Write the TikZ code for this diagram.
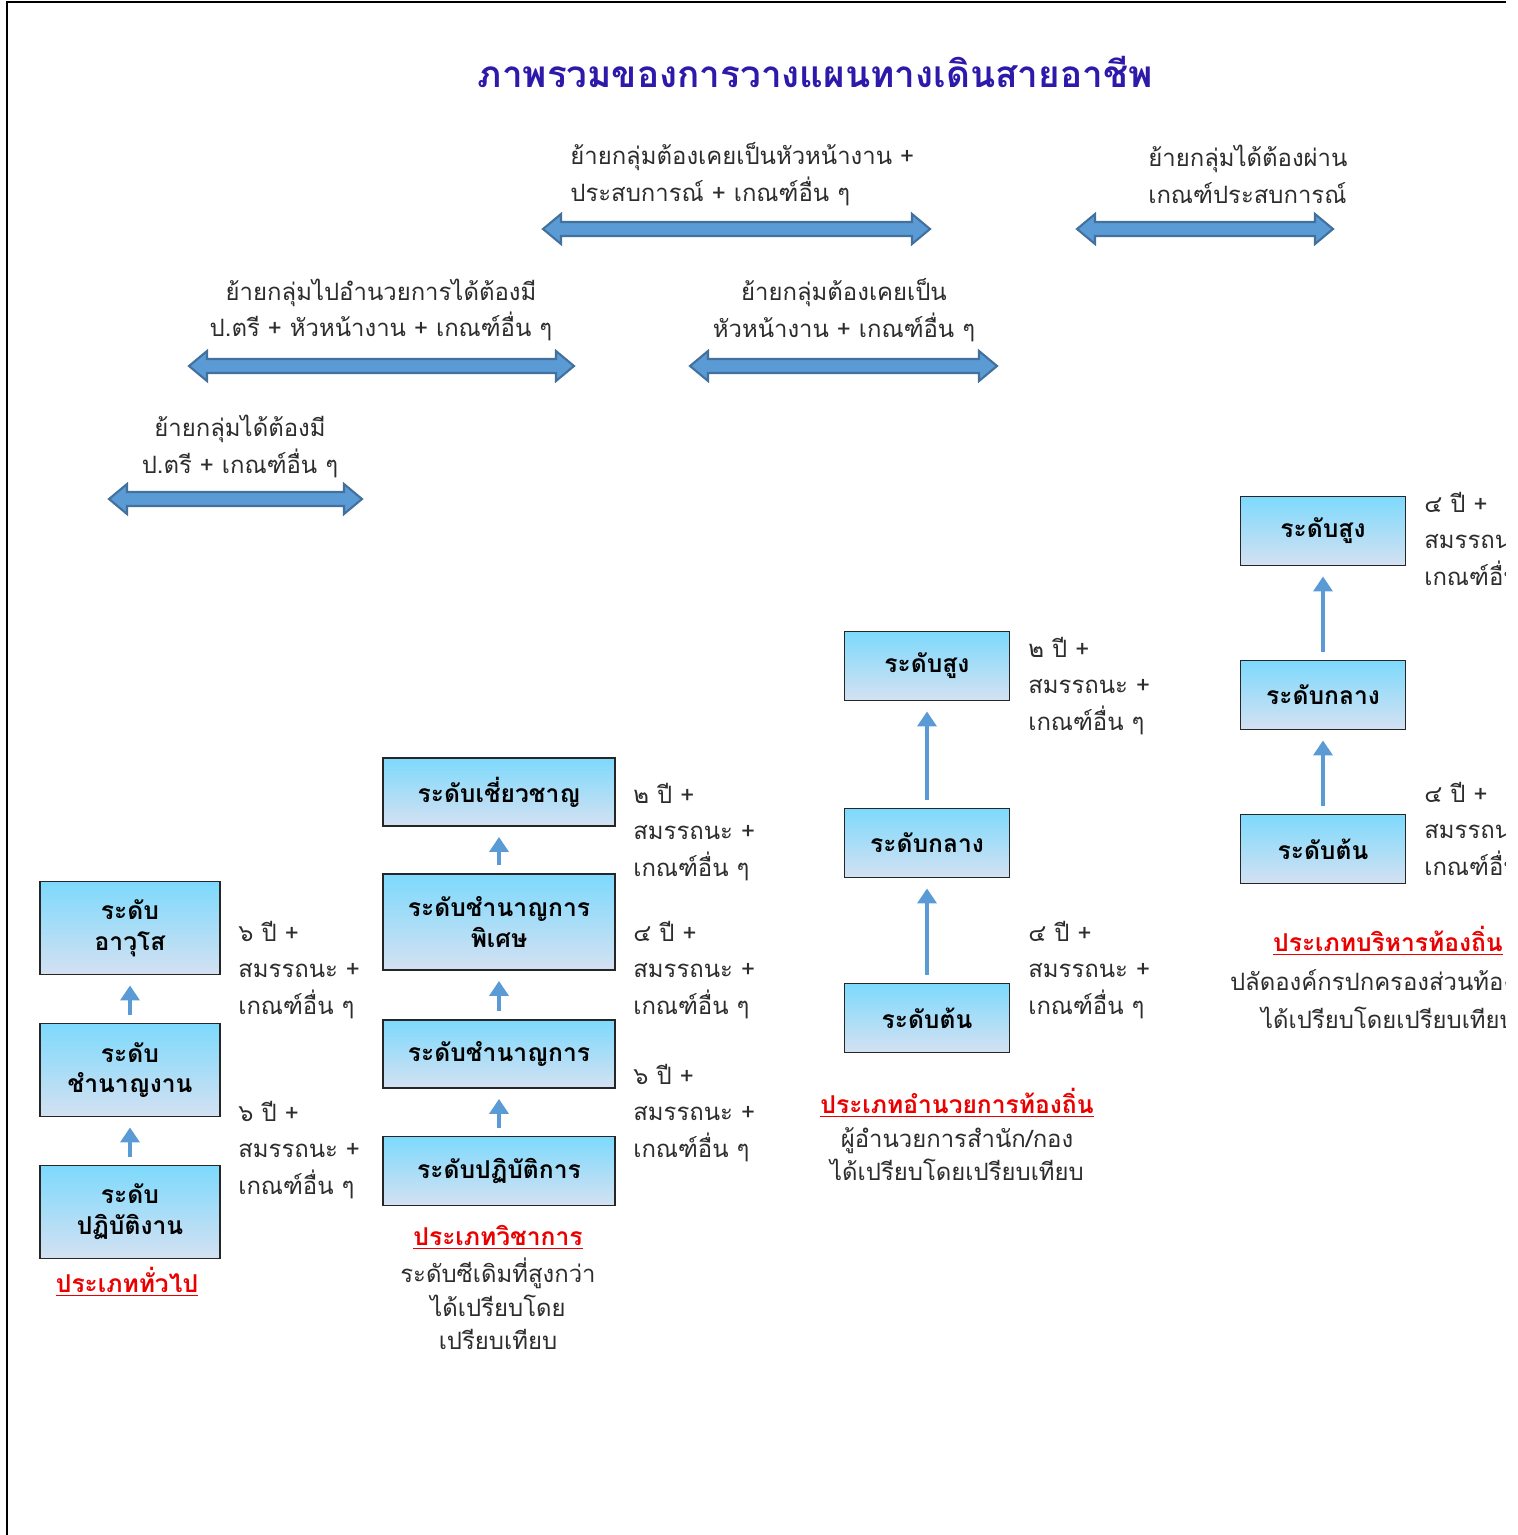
\documentclass[tikz,border=0pt]{standalone}
\usepackage{fontspec}
\setmainfont[Script=Thai]{Loma}
\usetikzlibrary{arrows.meta}
\definecolor{titleblue}{RGB}{45,25,170}
\definecolor{txtgrey}{RGB}{45,45,45}
\definecolor{boxtop}{RGB}{125,217,252}
\definecolor{boxbot}{RGB}{212,225,242}
\definecolor{arrfill}{RGB}{91,155,213}
\definecolor{arredge}{RGB}{65,113,156}
\definecolor{capred}{RGB}{235,0,0}
\newcommand{\blockarrow}[3]{%
  \filldraw[fill=arrfill,draw=arredge,line width=1.2pt,line join=miter]
  (#1,#3) -- (#1+18,#3-15) -- (#1+18,#3-7) -- (#2-18,#3-7) -- (#2-18,#3-15) -- (#2,#3)
  -- (#2-18,#3+15) -- (#2-18,#3+7) -- (#1+18,#3+7) -- (#1+18,#3+15) -- cycle;}
\begin{document}
\begin{tikzpicture}[x=0.02cm,y=-0.02cm,
  lvl/.style={draw=black!85,line width=1.1pt,top color=boxtop,bottom color=boxbot,
    align=center,inner sep=0pt,font=\fontsize{14}{17.5}\selectfont\bfseries,text=black},
  body/.style={inner sep=0pt,text=txtgrey,font=\fontsize{13.6}{21}\selectfont},
  note/.style={inner sep=0pt,text=txtgrey,align=center},
  redcap/.style={inner sep=0pt,text=capred,font=\fontsize{14}{18}\selectfont\bfseries},
  uparr/.style={draw=arrfill,line width=0.08cm,-{Triangle[width=0.38cm,length=0.3cm]},
    shorten >=0.2cm,shorten <=0.16cm}]
\useasboundingbox (0,0) rectangle (1518,1535);
% frame lines
\draw[line width=1.3pt] (6,2) -- (1506,2);
\draw[line width=1.3pt] (7,2) -- (7,1535);

% title
\node[inner sep=0pt,text=titleblue,font=\fontsize{21}{24}\selectfont\bfseries] (title) at (815,72) {ภาพรวมของการวางแผนทางเดินสายอาชีพ};

% transfer arrows and texts
\node[body,align=left,anchor=west] (t1) at (570,174) {ย้ายกลุ่มต้องเคยเป็นหัวหน้างาน +\\ประสบการณ์ + เกณฑ์อื่น ๆ};
\blockarrow{543}{930}{229}
\node[body,align=left,anchor=west] (t2) at (1148,174) {ย้ายกลุ่มได้ต้องผ่าน\\เกณฑ์ประสบการณ์};
\blockarrow{1077}{1333}{229}
\node[body,align=center] (t3) at (381,310) {ย้ายกลุ่มไปอำนวยการได้ต้องมี\\ป.ตรี + หัวหน้างาน + เกณฑ์อื่น ๆ};
\blockarrow{189}{574}{366}
\node[body,align=center] (t4) at (844,310) {ย้ายกลุ่มต้องเคยเป็น\\หัวหน้างาน + เกณฑ์อื่น ๆ};
\blockarrow{690}{997}{366}
\node[body,align=center] (t5) at (240,446) {ย้ายกลุ่มได้ต้องมี\\ป.ตรี + เกณฑ์อื่น ๆ};
\blockarrow{109}{362}{499}

% column 1: general
\node[lvl,minimum width=3.6cm,minimum height=1.86cm] (g3) at (130,928) {ระดับ\\อาวุโส};
\node[lvl,minimum width=3.6cm,minimum height=1.86cm] (g2) at (130,1070) {ระดับ\\ชำนาญงาน};
\node[lvl,minimum width=3.6cm,minimum height=1.86cm] (g1) at (130,1212) {ระดับ\\ปฏิบัติงาน};
\draw[uparr] (g2) -- (g3);
\draw[uparr] (g1) -- (g2);
\node[body,align=left,anchor=west] (gr2) at (238,970) {๖ ปี +\\สมรรถนะ +\\เกณฑ์อื่น ๆ};
\node[body,align=left,anchor=west] (gr1) at (238,1150) {๖ ปี +\\สมรรถนะ +\\เกณฑ์อื่น ๆ};
\node[redcap] (gcap) at (127,1282) {\underline{ประเภททั่วไป}};

% column 2: academic
\node[lvl,minimum width=4.64cm,minimum height=1.36cm] (a4) at (499,792) {ระดับเชี่ยวชาญ};
\node[lvl,minimum width=4.64cm,minimum height=1.92cm] (a3) at (499,922) {ระดับชำนาญการ\\พิเศษ};
\node[lvl,minimum width=4.64cm,minimum height=1.36cm] (a2) at (499,1054) {ระดับชำนาญการ};
\node[lvl,minimum width=4.64cm,minimum height=1.38cm] (a1) at (499,1171) {ระดับปฏิบัติการ};
\draw[uparr] (a3) -- (a4);
\draw[uparr] (a2) -- (a3);
\draw[uparr] (a1) -- (a2);
\node[body,align=left,anchor=west] (ar3) at (633,832) {๒ ปี +\\สมรรถนะ +\\เกณฑ์อื่น ๆ};
\node[body,align=left,anchor=west] (ar2) at (633,970) {๔ ปี +\\สมรรถนะ +\\เกณฑ์อื่น ๆ};
\node[body,align=left,anchor=west] (ar1) at (633,1113) {๖ ปี +\\สมรรถนะ +\\เกณฑ์อื่น ๆ};
\node[redcap] (acap) at (498,1237) {\underline{ประเภทวิชาการ}};
\node[note,font=\fontsize{13.6}{19}\selectfont] (anote) at (498,1304) {ระดับซีเดิมที่สูงกว่า\\ได้เปรียบโดย\\เปรียบเทียบ};

% column 3: local director
\node[lvl,minimum width=3.3cm,minimum height=1.38cm] (d3) at (927,666) {ระดับสูง};
\node[lvl,minimum width=3.3cm,minimum height=1.38cm] (d2) at (927,843) {ระดับกลาง};
\node[lvl,minimum width=3.3cm,minimum height=1.38cm] (d1) at (927,1018) {ระดับต้น};
\draw[uparr] (d2) -- (d3);
\draw[uparr] (d1) -- (d2);
\node[body,align=left,anchor=west] (dr2) at (1028,686) {๒ ปี +\\สมรรถนะ +\\เกณฑ์อื่น ๆ};
\node[body,align=left,anchor=west] (dr1) at (1028,970) {๔ ปี +\\สมรรถนะ +\\เกณฑ์อื่น ๆ};
\node[redcap] (dcap) at (957,1103) {\underline{ประเภทอำนวยการท้องถิ่น}};
\node[note,font=\fontsize{13.6}{19}\selectfont] (dnote) at (957,1154) {ผู้อำนวยการสำนัก/กอง\\ได้เปรียบโดยเปรียบเทียบ};

% column 4: local administration (clipped at right edge, as in the reference)
\begin{scope}
\clip (0,0) rectangle (1505,1535);
\node[lvl,minimum width=3.3cm,minimum height=1.38cm] (b3) at (1323,531) {ระดับสูง};
\node[lvl,minimum width=3.3cm,minimum height=1.38cm] (b2) at (1323,695) {ระดับกลาง};
\node[lvl,minimum width=3.3cm,minimum height=1.38cm] (b1) at (1323,849) {ระดับต้น};
\draw[uparr] (b2) -- (b3);
\draw[uparr] (b1) -- (b2);
\node[body,align=left,anchor=west] (br2) at (1424,541) {๔ ปี +\\สมรรถนะ +\\เกณฑ์อื่น ๆ};
\node[body,align=left,anchor=west] (br1) at (1424,831) {๔ ปี +\\สมรรถนะ +\\เกณฑ์อื่น ๆ};
\node[redcap] (bcap) at (1388,941) {\underline{ประเภทบริหารท้องถิ่น}};
\node[note,font=\fontsize{13.6}{21.5}\selectfont] (bnote) at (1388,997) {ปลัดองค์กรปกครองส่วนท้องถิ่น\\ได้เปรียบโดยเปรียบเทียบ};
\end{scope}
\end{tikzpicture}
\end{document}
